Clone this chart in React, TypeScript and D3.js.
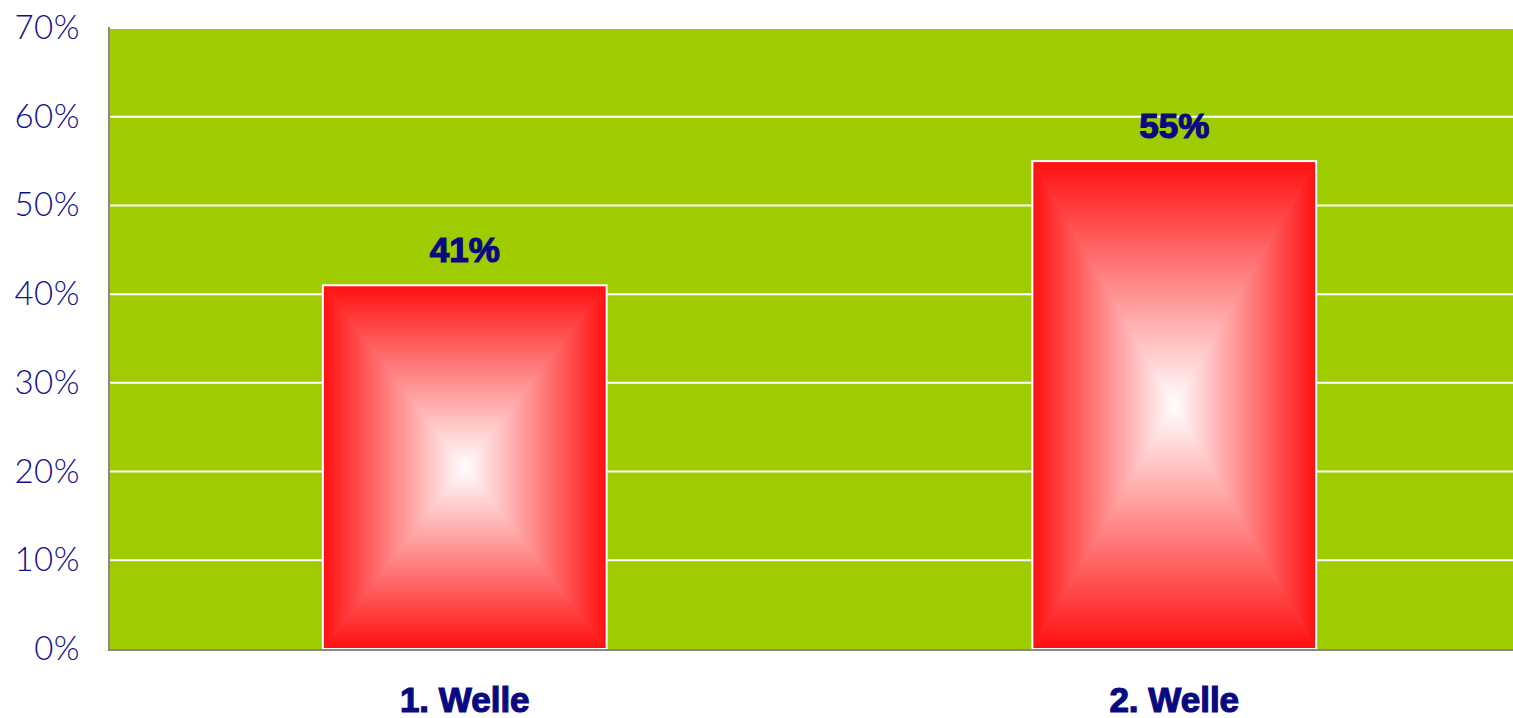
import React from "react";
import * as d3 from "d3";

const categories = ["1. Welle", "2. Welle"];
const values = [41, 55];
const yTicks = [0, 10, 20, 30, 40, 50, 60, 70];

const W = 1513;
const H = 718;
const left = 110;
const rightExt = 1529;
const top = 28;
const bottom = 649;

export default function App() {
  const x = d3
    .scaleBand<string>()
    .domain(categories)
    .range([left, rightExt])
    .paddingInner(0.6)
    .paddingOuter(0.3);
  const y = d3.scaleLinear().domain([0, 70]).range([bottom, top]);
  const navy = "#0A0A80";

  return (
    <div style={{ position: "absolute", left: 0, top: 0 }}>
      <svg width={W} height={H} style={{ display: "block" }}>
        <defs>
          <linearGradient id="gT" x1="0" y1="0" x2="0" y2="1">
            <stop offset="0" stopColor="#FF0F0F" />
            <stop offset="1" stopColor="#FFFFFF" />
          </linearGradient>
          <linearGradient id="gB" x1="0" y1="1" x2="0" y2="0">
            <stop offset="0" stopColor="#FF0F0F" />
            <stop offset="1" stopColor="#FFFFFF" />
          </linearGradient>
          <linearGradient id="gL" x1="0" y1="0" x2="1" y2="0">
            <stop offset="0" stopColor="#FF0F0F" />
            <stop offset="1" stopColor="#FFFFFF" />
          </linearGradient>
          <linearGradient id="gR" x1="1" y1="0" x2="0" y2="0">
            <stop offset="0" stopColor="#FF0F0F" />
            <stop offset="1" stopColor="#FFFFFF" />
          </linearGradient>
        </defs>
        <rect x={left} y={top} width={W - left} height={bottom - top} fill="#9ECC00" />
        {yTicks.slice(1).map((t) => (
          <line key={t} x1={left} x2={W} y1={y(t)} y2={y(t)} stroke="#FFFFFF" strokeWidth={2} />
        ))}
        {categories.map((c, i) => {
          const x0 = x(c)!;
          const bw = x.bandwidth();
          const x1 = x0 + bw;
          const y0 = y(values[i]);
          const y1 = y(0);
          const cx = (x0 + x1) / 2;
          const cy = (y0 + y1) / 2;
          return (
            <g key={c}>
              <rect x={x0} y={y0} width={bw} height={y1 - y0} fill="#FF8080" />
              <polygon points={`${x0},${y0} ${x1},${y0} ${cx},${cy}`} fill="url(#gT)" stroke="url(#gT)" strokeWidth={0.8} strokeLinejoin="round" />
              <polygon points={`${x0},${y1} ${x1},${y1} ${cx},${cy}`} fill="url(#gB)" stroke="url(#gB)" strokeWidth={0.8} strokeLinejoin="round" />
              <polygon points={`${x0},${y0} ${x0},${y1} ${cx},${cy}`} fill="url(#gL)" stroke="url(#gL)" strokeWidth={0.8} strokeLinejoin="round" />
              <polygon points={`${x1},${y0} ${x1},${y1} ${cx},${cy}`} fill="url(#gR)" stroke="url(#gR)" strokeWidth={0.8} strokeLinejoin="round" />
              <rect x={x0} y={y0} width={bw} height={y1 - y0} fill="none" stroke="#FFFFFF" strokeWidth={2} />
              <text
                x={cx}
                y={y0 - 23}
                textAnchor="middle"
                fontFamily="Liberation Sans, Arial, sans-serif"
                fontWeight="bold"
                fontSize={35}
                fill={navy}
                stroke={navy}
                strokeWidth={1.2}
              >
                {values[i]}%
              </text>
              <text
                x={cx}
                y={712}
                textAnchor="middle"
                fontFamily="Liberation Sans, Arial, sans-serif"
                fontWeight="bold"
                fontSize={35}
                fill={navy}
                stroke={navy}
                strokeWidth={1.2}
              >
                {c}
              </text>
            </g>
          );
        })}
        <line x1={left - 1} x2={left - 1} y1={top - 1} y2={bottom + 1} stroke="#888888" strokeWidth={2} />
        <line x1={left - 2} x2={W} y1={bottom + 1} y2={bottom + 1} stroke="#888888" strokeWidth={2} />
        {yTicks.map((t) => (
          <text
            key={t}
            x={80}
            y={y(t) + 11}
            textAnchor="end"
            fontFamily="Lato, sans-serif"
            fontWeight={300}
            fontSize={33}
            letterSpacing={0.5}
            fill="#101088"
          >
            {t}%
          </text>
        ))}
      </svg>
    </div>
  );
}
